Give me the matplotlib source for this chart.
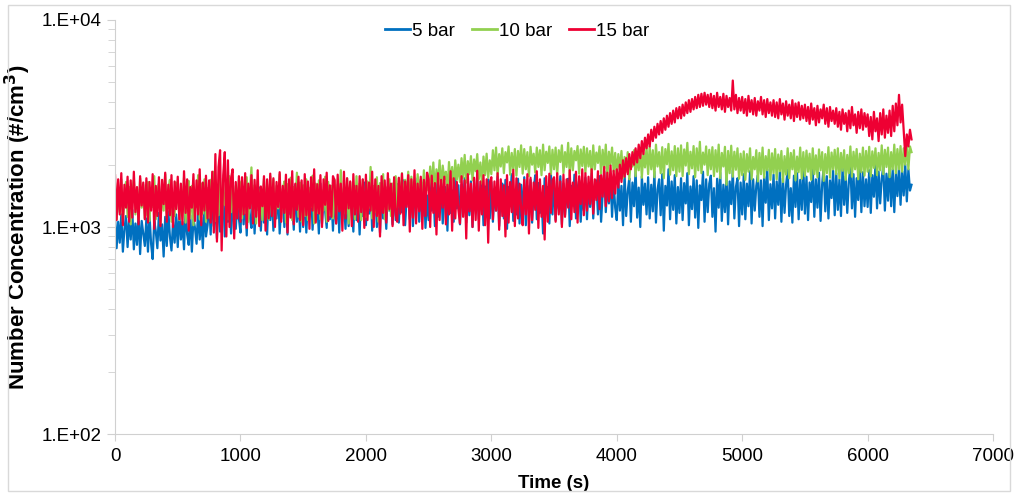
import numpy as np
import matplotlib.pyplot as plt
from matplotlib.patches import Rectangle
from matplotlib.ticker import LogLocator, FixedLocator, NullFormatter

# sampling grid (s), one reading every 12.5 s
time_s = np.arange(0, 6350.1, 12.5)

# number concentration (#/cm3), 20 readings per row (250 s)
conc_5bar = [
    1120, 790, 1060, 840, 1150, 760, 980, 1130, 800, 1090, 870, 1210, 780, 1040, 820, 1160, 740, 1070, 930, 810,
    1100, 760, 1140, 830, 700, 1080, 950, 790, 1170, 860, 1030, 720, 1120, 810, 1190, 900, 770, 1060, 840, 1150,
    800, 1180, 870, 1060, 780, 1230, 920, 820, 1140, 760, 1090, 990, 830, 1200, 870, 1110, 790, 1250, 900, 1020,
    1350, 920, 1480, 1010, 1290, 880, 1520, 950, 1180, 1430, 900, 1380, 1060, 1500, 930, 1250, 1450, 980, 1330, 1100,
    940, 1520, 1030, 1400, 910, 1560, 1120, 990, 1480, 930, 1360, 1210, 1550, 960, 1420, 1050, 1300, 920, 1500, 1080,
    1450, 960, 1380, 1100, 1570, 930, 1260, 1490, 1000, 1410, 920, 1540, 1150, 1330, 970, 1600, 1060, 1420, 950, 1480,
    1000, 1530, 940, 1360, 1180, 1580, 970, 1450, 1070, 1310, 930, 1620, 1040, 1400, 1200, 990, 1510, 1090, 1390, 960,
    1500, 1040, 1430, 940, 1600, 1150, 1320, 980, 1550, 1010, 1460, 1250, 950, 1580, 1080, 1380, 920, 1490, 1130, 1640,
    1020, 1450, 1160, 1590, 960, 1360, 1510, 1000, 1420, 940, 1620, 1100, 1330, 980, 1560, 1200, 1470, 1030, 1650, 1080,
    1610, 1050, 1480, 1180, 1680, 1020, 1390, 1570, 1090, 1650, 1010, 1440, 1260, 1720, 1060, 1530, 1130, 1600, 990, 1420,
    1080, 1650, 1200, 1540, 1010, 1700, 1120, 1460, 1620, 1040, 1390, 1560, 960, 1680, 1170, 1500, 1060, 1760, 1230, 1590,
    1030, 1600, 1280, 1720, 1050, 1480, 1140, 1660, 1000, 1540, 1230, 1780, 1090, 1410, 1640, 1020, 1570, 1180, 1700, 1100,
    1650, 1060, 1530, 1200, 1750, 1010, 1450, 1620, 1100, 1690, 980, 1560, 1320, 1800, 1070, 1480, 1150, 1710, 1040, 1600,
    1120, 1740, 1020, 1580, 1260, 1690, 1050, 1500, 1780, 1090, 1630, 1170, 1420, 930, 1720, 1210, 1560, 1040, 1800, 1150,
    1690, 1080, 1510, 1230, 1760, 1030, 1620, 1140, 1450, 1710, 1010, 1580, 1270, 1790, 1100, 1540, 1680, 1060, 1470, 1200,
    1730, 1090, 1620, 1250, 1810, 1100, 1540, 1680, 1150, 1760, 1060, 1450, 1850, 1180, 1600, 1300, 1790, 1120, 1660, 1240,
    1080, 1700, 1200, 1580, 1020, 1800, 1130, 1490, 1720, 1060, 1640, 1260, 1880, 1110, 1550, 1000, 1760, 1280, 1620, 1150,
    1740, 1100, 1600, 1190, 1850, 1050, 1520, 1700, 1140, 1800, 960, 1580, 1270, 1900, 1090, 1660, 1210, 1780, 1040, 1560,
    1170, 1720, 1080, 1630, 1300, 1820, 1020, 1570, 1220, 1760, 1110, 1680, 990, 1590, 1350, 1850, 1060, 1700, 1180, 1620,
    1770, 1120, 1540, 950, 1710, 1240, 1830, 1070, 1600, 1180, 1750, 1030, 1660, 1290, 1880, 1100, 1560, 1720, 1010, 1640,
    1150, 1800, 1090, 1620, 1260, 1860, 1040, 1700, 1200, 1580, 1780, 1120, 1680, 1010, 1750, 1310, 1900, 1080, 1610, 1230,
    1790, 1100, 1660, 1280, 1850, 1060, 1720, 1170, 1600, 1890, 1130, 1540, 1050, 1770, 1250, 1820, 1090, 1690, 1210, 1930,
    1160, 1750, 1080, 1640, 1320, 1900, 1120, 1700, 1240, 1830, 1070, 1610, 1950, 1190, 1760, 1100, 1680, 1380, 1870, 1140,
    1820, 1210, 1700, 1130, 1920, 1280, 1760, 1170, 1650, 1980, 1230, 1800, 1120, 1720, 1350, 1950, 1180, 1840, 1260, 1700,
    1250, 1880, 1170, 1780, 1400, 2010, 1230, 1850, 1300, 1720, 1960, 1200, 1810, 1340, 2050, 1260, 1900, 1180, 1820, 1410,
    1950, 1280, 1860, 1420, 2000, 1330, 1900, 1500, 1600,
]

conc_10bar = [
    1620, 1090, 1480, 1180, 1700, 1060, 1390, 1650, 1120, 1560, 1030, 1450, 1680, 1150, 1530, 1080, 1720, 1240, 1600, 1100,
    1160, 1650, 1070, 1540, 1250, 1760, 1090, 1480, 1620, 1040, 1580, 1200, 1800, 1110, 1500, 1690, 1060, 1430, 1130, 1640,
    1600, 1080, 1520, 1190, 1730, 1050, 1450, 1670, 1100, 1580, 1020, 1490, 1250, 1780, 1090, 1620, 1160, 1700, 1060, 1540,
    1110, 1690, 1230, 1850, 1070, 1550, 1140, 1720, 1030, 1610, 1280, 1500, 1090, 1760, 1180, 1640, 1050, 1580, 1220, 1680,
    1630, 1100, 1550, 1170, 1740, 1060, 1480, 1940, 1120, 1590, 1040, 1670, 1260, 1520, 1080, 1710, 1150, 1600, 1090, 1760,
    1140, 1690, 1070, 1580, 1230, 1800, 1100, 1520, 1660, 1050, 1610, 1190, 1730, 1080, 1560, 1270, 1830, 1120, 1640, 1060,
    1590, 1130, 1700, 1080, 1540, 1250, 1770, 1040, 1620, 1170, 1680, 1090, 1500, 1200, 1750, 1060, 1650, 1140, 1580, 1100,
    1700, 1110, 1600, 1220, 1880, 1070, 1530, 1160, 1720, 1040, 1640, 1280, 1560, 1090, 1760, 1150, 1620, 1080, 1690, 1200,
    1120, 1660, 1240, 1950, 1100, 1580, 1180, 1740, 1060, 1630, 1300, 1800, 1090, 1550, 1200, 1700, 1130, 1620, 1270, 1760,
    1240, 1720, 1330, 1820, 1260, 1690, 1420, 1850, 1290, 1750, 1380, 1610, 1250, 1800, 1460, 1700, 1350, 1880, 1420, 1660,
    1500, 1960, 1560, 2050, 1470, 1900, 1620, 2100, 1510, 1980, 1700, 1850, 1480, 2060, 1640, 1950, 1550, 2100, 1690, 2000,
    1650, 2150, 1720, 2230, 1640, 2080, 1800, 2200, 1680, 2120, 1860, 2250, 1700, 2050, 1620, 2190, 1780, 2260, 1730, 2100,
    1800, 2350, 1880, 2420, 1760, 2250, 1960, 2400, 1820, 2300, 2050, 2450, 1790, 2280, 1900, 2380, 1770, 2330, 1950, 2480,
    1810, 2380, 1900, 2300, 1760, 2440, 2000, 2260, 1830, 2420, 1950, 2350, 1780, 2500, 1880, 2310, 2040, 2450, 1800, 2360,
    1900, 2420, 1790, 2350, 2060, 2480, 1820, 2300, 1950, 2550, 1780, 2400, 1880, 2330, 2100, 2460, 1810, 2370, 1970, 2440,
    1830, 2400, 1960, 2330, 1770, 2480, 1900, 2290, 2040, 2450, 1810, 2360, 1920, 2500, 1760, 2310, 1990, 2420, 1850, 2280,
    1780, 2250, 1900, 2330, 1720, 2180, 1850, 2300, 1700, 2120, 1960, 2350, 1760, 2240, 1880, 2380, 1730, 2280, 1940, 2420,
    1800, 2450, 1900, 2350, 1740, 2500, 1960, 2300, 1820, 2430, 1720, 2380, 2010, 2520, 1790, 2320, 1880, 2460, 1760, 2400,
    1850, 2480, 1760, 2370, 1980, 2550, 1800, 2310, 1920, 2460, 1740, 2400, 1880, 2580, 1820, 2290, 2000, 2450, 1780, 2360,
    1900, 2430, 1760, 2350, 1850, 2500, 1720, 2280, 1960, 2440, 1600, 2330, 1820, 2470, 1750, 2310, 1890, 2400, 1710, 2260,
    1780, 2320, 1690, 2250, 1850, 2400, 1700, 2180, 1900, 2350, 1660, 2280, 1800, 2420, 1730, 2200, 1880, 2360, 1690, 2270,
    1820, 2380, 1700, 2240, 1860, 2330, 1650, 2200, 1790, 2400, 1720, 2280, 1900, 2350, 1680, 2190, 1840, 2420, 1710, 2300,
    1760, 2340, 1850, 2260, 1690, 2400, 1800, 2220, 1740, 2370, 1880, 2300, 1670, 2250, 1820, 2430, 1730, 2290, 1900, 2360,
    1800, 2400, 1720, 2280, 1870, 2350, 1690, 2230, 1820, 2450, 1750, 2310, 1900, 2380, 1700, 2260, 1840, 2420, 1770, 2330,
    1850, 2440, 1760, 2320, 1930, 2400, 1780, 2280, 1880, 2480, 1800, 2360, 1950, 2420, 1740, 2300, 1900, 2500, 1820, 2380,
    1900, 2460, 1850, 2400, 2000, 2520, 1900, 2450, 2300,
]

conc_15bar = [
    1780, 1080, 1700, 1150, 1820, 1020, 1600, 1240, 1750, 1060, 1680, 1110, 1850, 1180, 1560, 1030, 1760, 1270, 1640, 1090,
    1720, 1050, 1650, 1200, 1800, 980, 1580, 1130, 1740, 1010, 1690, 1290, 1830, 1060, 1600, 1140, 1780, 1000, 1660, 1220,
    1750, 1090, 1620, 1030, 1860, 1170, 1700, 960, 1560, 1240, 1800, 1070, 1680, 1150, 1900, 1020, 1640, 1200, 1770, 1100,
    1680, 1050, 1850, 940, 2250, 850, 1950, 2350, 770, 1780, 2300, 900, 2100, 1000, 1720, 1900, 880, 1650, 1100, 1760,
    1060, 1740, 1150, 1820, 990, 1620, 1230, 1780, 1040, 1690, 1120, 1880, 1010, 1570, 1260, 1760, 960, 1700, 1100, 1810,
    1130, 1720, 1000, 1650, 1250, 1840, 1060, 1580, 1170, 1790, 940, 1700, 1110, 1860, 1030, 1620, 1210, 1750, 1080, 1680,
    1020, 1800, 1140, 1660, 980, 1740, 1200, 1900, 1050, 1610, 1160, 1780, 1000, 1700, 1280, 1830, 1070, 1590, 1120, 1760,
    1680, 1040, 1790, 1190, 1620, 960, 1850, 1100, 1720, 1230, 1660, 1010, 1800, 1150, 1580, 1060, 1760, 1180, 1700, 990,
    1790, 1080, 1640, 1200, 1850, 1000, 1700, 1130, 1580, 900, 1760, 1170, 1680, 1050, 1820, 1220, 1620, 1010, 1740, 1140,
    1060, 1730, 1160, 1810, 1020, 1660, 1250, 1780, 950, 1700, 1110, 1880, 1040, 1620, 1190, 1750, 980, 1690, 1130, 1830,
    1700, 1000, 1770, 1170, 1630, 920, 1820, 1080, 1690, 1240, 1750, 1030, 1600, 1150, 1860, 960, 1720, 1100, 1650, 1210,
    1040, 1760, 1120, 1680, 880, 1800, 1190, 1620, 1000, 1730, 1080, 1870, 960, 1660, 1150, 1780, 1020, 1700, 840, 1640,
    1740, 1090, 1660, 1200, 1820, 970, 1700, 1130, 1590, 900, 1780, 1050, 1650, 1180, 1890, 1010, 1720, 1100, 1620, 1240,
    1020, 1690, 1150, 1800, 930, 1730, 1080, 1640, 1210, 1860, 990, 1700, 1120, 1580, 870, 1760, 1060, 1810, 1170, 1680,
    1740, 1060, 1820, 1150, 1660, 1000, 1790, 1120, 1700, 1240, 1880, 1090, 1640, 1180, 1850, 1050, 1760, 1290, 1900, 1140,
    1820, 1200, 1750, 1290, 1900, 1160, 1700, 1350, 1860, 1220, 1780, 1400, 1950, 1260, 1830, 1330, 1980, 1380, 1870, 1450,
    1900, 1550, 2000, 1650, 2100, 1750, 2150, 1800, 2250, 1900, 2300, 2000, 2400, 2050, 2500, 2150, 2600, 2250, 2700, 2400,
    2800, 2450, 2950, 2600, 3050, 2700, 3150, 2800, 3250, 2850, 3350, 2950, 3450, 3050, 3550, 3150, 3650, 3200, 3750, 3350,
    3800, 3350, 3900, 3450, 4000, 3550, 4100, 3600, 4150, 3700, 4250, 3750, 4350, 3800, 4400, 3850, 4450, 3900, 4350, 3800,
    4400, 3750, 4300, 3650, 4450, 3800, 4250, 3700, 4400, 3600, 4300, 3800, 4200, 3650, 5100, 3700, 4350, 3550, 4200, 3650,
    4250, 3550, 4150, 3450, 4300, 3600, 4100, 3500, 4200, 3450, 4050, 3650, 4250, 3500, 4100, 3400, 4150, 3550, 4000, 3450,
    4100, 3400, 4000, 3350, 4150, 3500, 3950, 3300, 4050, 3450, 3900, 3350, 4100, 3250, 3950, 3400, 4000, 3300, 3850, 3350,
    3900, 3250, 3800, 3150, 3950, 3300, 3750, 3100, 3850, 3200, 3700, 3350, 3900, 3150, 3750, 3050, 3800, 3250, 3650, 3150,
    3750, 3050, 3600, 2950, 3700, 3150, 3550, 2900, 3650, 3000, 3800, 3100, 3500, 2850, 3600, 3000, 3700, 2950, 3550, 3050,
    3500, 2750, 3400, 2650, 3600, 2900, 3350, 2600, 3550, 2800, 3700, 2700, 3450, 2850, 3650, 2750, 3850, 2900, 3950, 3100,
    4350, 3200, 3900, 2900, 2200, 2800, 2450, 2950, 2650,
]

series = [
    ("5 bar", conc_5bar, "#0070C0"),
    ("10 bar", conc_10bar, "#92D050"),
    ("15 bar", conc_15bar, "#EE0033"),
]

plt.rcParams["font.family"] = ["Liberation Sans", "DejaVu Sans"]

fig = plt.figure(figsize=(10.18, 4.95), dpi=100)
ax = fig.add_axes([0.113, 0.1232, 0.8625, 0.8364])

for name, vals, col in series:
    ax.plot(time_s, vals, color=col, lw=1.6, label=name)

ax.set_yscale("log")
ax.set_ylim(100, 10000)
ax.set_xlim(0, 7000)
ax.xaxis.set_major_locator(FixedLocator(range(0, 7001, 1000)))
ax.yaxis.set_major_locator(FixedLocator([100, 1000, 10000]))
ax.yaxis.set_minor_locator(LogLocator(base=10, subs=range(2, 10)))
ax.yaxis.set_minor_formatter(NullFormatter())
ax.set_yticklabels(["1.E+02", "1.E+03", "1.E+04"])

gray = "#d0d0d0"
for side in ("top", "right"):
    ax.spines[side].set_visible(False)
for side in ("left", "bottom"):
    ax.spines[side].set_color(gray)
ax.tick_params(axis="both", which="both", color=gray, labelsize=13.5, labelcolor="black")
ax.tick_params(axis="y", which="major", length=6, pad=4)
ax.tick_params(axis="y", which="minor", length=5)
ax.tick_params(axis="x", which="major", length=5, pad=5)

ax.set_xlabel("Time (s)", fontsize=13.5, fontweight="bold", labelpad=7)
ax.set_ylabel("Number Concentration (#/cm$^\\mathbf{3}$)", fontsize=16,
              fontweight="bold")
ax.yaxis.set_label_coords(-0.093, 0.5)

leg = ax.legend(loc="upper center", bbox_to_anchor=(0.458, 1.035), ncol=3, frameon=False,
                fontsize=13.5, handlelength=1.35, handletextpad=0.1, columnspacing=0.9)
for line in leg.get_lines():
    line.set_linewidth(2)

fig.patches.append(Rectangle((0.008, 0.008), 0.984, 0.982, transform=fig.transFigure,
                             fill=False, edgecolor="#d9d9d9", lw=1))

fig.savefig("out.png", dpi=100)
